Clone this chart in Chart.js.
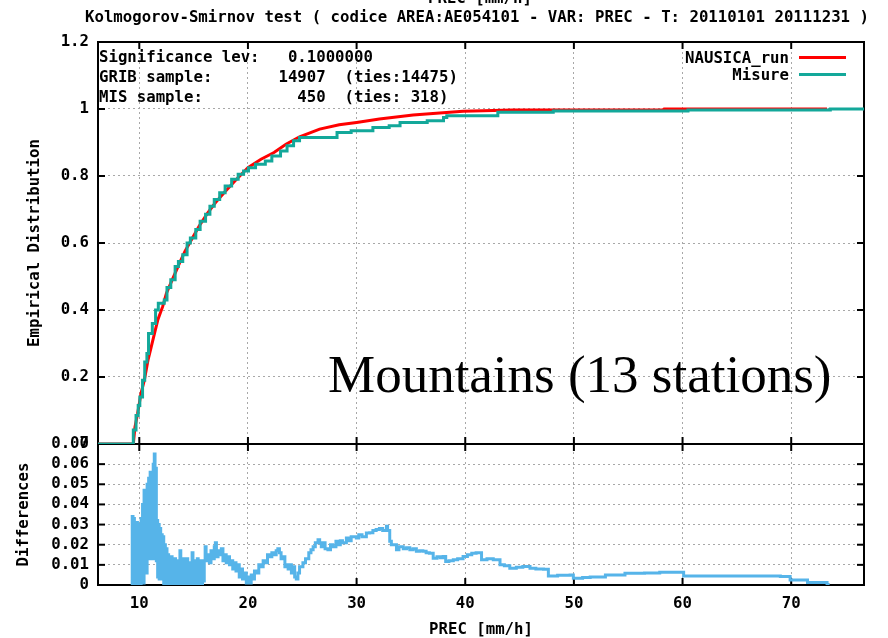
<!DOCTYPE html>
<html>
<head>
<meta charset="utf-8">
<script src="https://cdn.jsdelivr.net/npm/chart.js@4.4.0/dist/chart.umd.min.js"></script>
<style>
  html, body { margin: 0; padding: 0; background: #fff; }
  #wrap { position: relative; width: 888px; height: 638px; overflow: hidden; }
  #ks { position: absolute; left: 0; top: 0; }
  .mono {
    position: absolute; white-space: pre; color: #000;
    font-family: 'DejaVu Sans Mono', monospace; font-weight: bold;
    font-size: 15.7px; line-height: 20px;
  }
  .big {
    position: absolute; white-space: pre; color: #000;
    font-family: 'Liberation Serif', 'Times New Roman', serif;
    font-size: 53px; line-height: 53px;
  }
  .key { position: absolute; height: 3px; width: 47px; }
</style>
</head>
<body>
<div id="wrap">
  <canvas id="ks" width="888" height="638"></canvas>
  <div class="mono" style="left:428px; top:-12px;">PREC [mm/h]</div>
  <div class="mono" style="left:85px; top:7px;">Kolmogorov-Smirnov test ( codice AREA:AE054101 - VAR: PREC - T: 20110101 20111231 )</div>
  <div class="mono" style="left:99px; top:47px;">Significance lev:   0.1000000</div>
  <div class="mono" style="left:99px; top:67px;">GRIB sample:       14907  (ties:14475)</div>
  <div class="mono" style="left:99px; top:87px;">MIS sample:          450  (ties: 318)</div>
  <div id="legend"></div>
  <div class="big" style="left:328px; top:348px;">Mountains (13 stations)</div>
</div>
<script>
// KS test, mountain stations: empirical CDFs (top) and their difference (bottom)
const RED = '#ff0000';
const TEAL = '#13a89a';
const SKY = '#56b4e9';
const GRID = '#a8a8a8';
const FONT = "'DejaVu Sans Mono', monospace";

const xTicks = [10, 20, 30, 40, 50, 60, 70];
const cdfTicks = [0, 0.2, 0.4, 0.6, 0.8, 1, 1.2];
const diffTicks = [0, 0.01, 0.02, 0.03, 0.04, 0.05, 0.06, 0.07];

// NAUSICA_run (model) CDF
const runX = [6.2, 9.45, 9.6, 9.85, 10.15, 10.46, 10.8, 11.1, 11.4, 11.7,
  12.15, 12.5, 12.9, 13.3, 13.7, 14.2, 14.8, 15.5, 16.3, 17.0,
  17.8, 18.8, 20.0, 21.2, 22.4, 23.5, 24.75, 26.6, 28.4, 30.0,
  32.1, 35.2, 39.8, 44.4, 58.2, 58.3, 73.3];
const runY = [0, 0, 0.05, 0.092, 0.15, 0.19, 0.25, 0.29, 0.33, 0.37,
  0.41, 0.45, 0.48, 0.51, 0.54, 0.575, 0.61, 0.65, 0.69, 0.72,
  0.75, 0.785, 0.825, 0.85, 0.87, 0.895, 0.917, 0.94, 0.953, 0.96,
  0.97, 0.982, 0.993, 0.997, 0.998, 1.0, 1.0];

// Misure (observations) CDF, stepped
const misX = [6.2, 9.45, 9.7, 9.9, 10.05, 10.3, 10.5, 10.7, 10.85, 11.2,
  11.5, 11.75, 12.3, 12.55, 12.9, 13.3, 13.6, 14.0, 14.4, 14.7,
  15.2, 15.6, 16.1, 16.5, 16.9, 17.4, 17.9, 18.5, 19.1, 19.6,
  20.05, 20.7, 21.6, 22.2, 23.0, 23.6, 24.2, 24.75, 28.2, 29.5,
  31.5, 33.0, 34.0, 36.5, 38.0, 38.3, 43.0, 48.1, 60.5, 73.6, 76.7];
const misY = [0, 0.042, 0.085, 0.115, 0.14, 0.19, 0.245, 0.27, 0.33, 0.36,
  0.40, 0.42, 0.43, 0.467, 0.49, 0.53, 0.545, 0.565, 0.60, 0.615,
  0.64, 0.665, 0.686, 0.71, 0.73, 0.75, 0.77, 0.79, 0.805, 0.815,
  0.825, 0.835, 0.845, 0.86, 0.875, 0.89, 0.905, 0.915, 0.93, 0.935,
  0.945, 0.95, 0.96, 0.965, 0.975, 0.98, 0.99, 0.994, 0.997, 1.0, 1.0];

// differences between the two CDFs
const diffX = [9.33, 9.35, 9.42, 9.48, 9.55, 9.62, 9.70, 9.76, 9.83, 9.90,
  9.97, 10.04, 10.10, 10.17, 10.24, 10.30, 10.37, 10.44, 10.51, 10.58,
  10.65, 10.72, 10.79, 10.86, 10.93, 11.00, 11.07, 11.14, 11.21, 11.28,
  11.35, 11.38, 11.45, 11.50, 11.57, 11.62, 11.69, 11.76, 11.83, 11.90,
  11.97, 12.04, 12.11, 12.18, 12.25, 12.32, 12.40, 12.47, 12.55, 12.62,
  12.70, 12.78, 12.86, 12.94, 13.02, 13.10, 13.18, 13.26, 13.34, 13.42,
  13.50, 13.58, 13.66, 13.74, 13.82, 13.90, 13.98, 14.06, 14.14, 14.22,
  14.30, 14.38, 14.46, 14.54, 14.62, 14.70, 14.78, 14.86, 14.94, 15.02,
  15.10, 15.18, 15.26, 15.34, 15.42, 15.50, 15.58, 15.66, 15.74, 15.82,
  15.90, 15.98, 16.06, 16.15, 16.30, 16.45, 16.60, 16.75, 16.90, 17.00,
  17.10, 17.25, 17.40, 17.55, 17.70, 17.85, 18.00, 18.15, 18.30, 18.45,
  18.60, 18.75, 18.90, 19.05, 19.20, 19.35, 19.50, 19.70, 19.85, 20.00,
  20.15, 20.30, 20.45, 20.60, 20.80, 21.00, 21.20, 21.40, 21.60, 21.80,
  22.00, 22.20, 22.40, 22.60, 22.75, 22.90, 23.05, 23.20, 23.40, 23.55,
  23.70, 23.85, 24.00, 24.15, 24.30, 24.45, 24.60, 24.75, 25.06, 25.30,
  25.60, 25.80, 26.00, 26.20, 26.45, 26.60, 26.75, 26.90, 27.10, 27.36,
  27.60, 27.80, 28.10, 28.30, 28.50, 28.70, 29.06, 29.30, 29.50, 29.98,
  30.20, 30.50, 30.90, 31.20, 31.50, 31.80, 32.10, 32.40, 32.75, 32.85,
  33.05, 33.20, 33.67, 33.90, 34.30, 34.60, 34.90, 35.20, 35.50, 35.80,
  36.10, 36.40, 36.70, 37.05, 37.40, 37.70, 37.97, 38.20, 38.50, 38.90,
  39.30, 39.80, 40.20, 40.60, 41.00, 41.35, 41.50, 42.00, 42.58, 43.20,
  43.60, 44.10, 44.70, 45.30, 45.96, 46.50, 47.20, 47.65, 48.50, 49.65,
  49.95, 50.80, 51.50, 52.90, 54.70, 56.50, 57.90, 59.40, 60.10, 64.00,
  68.70, 69.00, 69.90, 71.50, 73.30, 73.40];
const diffY = [0, 0.034, 0.002, 0.033, 0.000, 0.031, 0.004, 0.031, 0.000, 0.030,
  0.003, 0.030, 0.000, 0.033, 0.002, 0.040, 0.001, 0.047, 0.007, 0.046,
  0.006, 0.050, 0.013, 0.053, 0.014, 0.056, 0.013, 0.055, 0.018, 0.060,
  0.013, 0.065, 0.014, 0.058, 0.012, 0.032, 0.004, 0.030, 0.003, 0.028,
  0.005, 0.025, 0.003, 0.024, 0.000, 0.020, 0.002, 0.018, 0.000, 0.015,
  0.003, 0.012, 0.000, 0.014, 0.001, 0.010, 0.000, 0.013, 0.002, 0.010,
  0.000, 0.012, 0.001, 0.017, 0.000, 0.011, 0.002, 0.013, 0.000, 0.010,
  0.001, 0.013, 0.000, 0.009, 0.002, 0.011, 0.000, 0.016, 0.001, 0.012,
  0.000, 0.010, 0.002, 0.013, 0.000, 0.011, 0.001, 0.012, 0.000, 0.010,
  0.002, 0.012, 0.019, 0.012, 0.015, 0.011, 0.017, 0.013, 0.019, 0.021,
  0.014, 0.017, 0.015, 0.018, 0.012, 0.015, 0.011, 0.014, 0.010, 0.012,
  0.008, 0.011, 0.007, 0.010, 0.004, 0.008, 0.003, 0.006, 0.001, 0.004,
  0.001, 0.005, 0.003, 0.007, 0.006, 0.010, 0.009, 0.012, 0.011, 0.015,
  0.014, 0.016, 0.015, 0.017, 0.018, 0.016, 0.013, 0.014, 0.009, 0.010,
  0.008, 0.010, 0.006, 0.009, 0.004, 0.003, 0.006, 0.009, 0.011, 0.013,
  0.016, 0.0175, 0.019, 0.021, 0.0225, 0.021, 0.019, 0.021, 0.018, 0.0175,
  0.020, 0.019, 0.0217, 0.020, 0.022, 0.021, 0.0233, 0.022, 0.024, 0.0233,
  0.025, 0.024, 0.0258, 0.026, 0.027, 0.0275, 0.028, 0.027, 0.0292, 0.027,
  0.0217, 0.020, 0.0175, 0.019, 0.018, 0.0185, 0.0175, 0.018, 0.0167, 0.017,
  0.0167, 0.016, 0.0158, 0.0133, 0.014, 0.0135, 0.0142, 0.0117, 0.012, 0.0125,
  0.013, 0.0142, 0.015, 0.0158, 0.016, 0.016, 0.0125, 0.013, 0.0125, 0.0100,
  0.0095, 0.0083, 0.0088, 0.0092, 0.0083, 0.0080, 0.0078, 0.0045, 0.0048, 0.0050,
  0.0033, 0.0037, 0.0040, 0.0050, 0.0058, 0.0060, 0.0063, 0.0063, 0.0045, 0.0045,
  0.0045, 0.0042, 0.0025, 0.0012, 0.0003, 0];

const SERIES = [
  { label: 'NAUSICA_run', color: RED },
  { label: 'Misure', color: TEAL },
];

const pts = (xs, ys) => xs.map((x, i) => ({ x: x, y: ys[i] }));
const useTicks = (vals) => (scale) => { scale.ticks = vals.map(v => ({ value: v })); };
const plainNum = (v) => String(+Number(v).toFixed(4));

// gnuplot-like frame with inward tick marks on every side of both panels
const TICK = 7;
const framePlugin = {
  id: 'frame',
  beforeDatasetsDraw(chart) {
    const { ctx, chartArea: a, scales } = chart;
    const xs = scales.x;
    const seg = (x1, y1, x2, y2) => { ctx.beginPath(); ctx.moveTo(x1, y1); ctx.lineTo(x2, y2); ctx.stroke(); };
    ctx.save();
    ctx.strokeStyle = '#000';
    ctx.lineWidth = 2;
    ['yCdf', 'yDiff'].forEach(id => {
      const s = scales[id];
      ctx.strokeRect(a.left, s.top, a.right - a.left, s.bottom - s.top);
      s.ticks.forEach(t => {
        const py = s.getPixelForValue(t.value);
        seg(a.left, py, a.left + TICK, py);
        seg(a.right, py, a.right - TICK, py);
      });
      xs.ticks.forEach(t => {
        const px = xs.getPixelForValue(t.value);
        seg(px, s.top, px, s.top + TICK);
        seg(px, s.bottom, px, s.bottom - TICK);
      });
    });
    ctx.restore();
  }
};

Chart.defaults.font.family = FONT;
Chart.defaults.font.size = 15.7;
Chart.defaults.font.weight = 'bold';
Chart.defaults.color = '#000';

const tickFont = { family: FONT, size: 15.7, weight: 'bold', lineHeight: 1.2 };
const titleFont = { family: FONT, size: 15.7, weight: 'bold', lineHeight: 1 };

new Chart(document.getElementById('ks'), {
  type: 'line',
  data: {
    datasets: [
      {
        label: SERIES[0].label, data: pts(runX, runY), yAxisID: 'yCdf',
        borderColor: RED, borderWidth: 3, pointRadius: 0, order: 2,
      },
      {
        label: SERIES[1].label, data: pts(misX, misY), yAxisID: 'yCdf',
        borderColor: TEAL, borderWidth: 3, pointRadius: 0, stepped: 'before', order: 1,
      },
      {
        label: 'Differences', data: pts(diffX, diffY), yAxisID: 'yDiff',
        borderColor: SKY, borderWidth: 3, pointRadius: 0, stepped: 'before', order: 3,
      },
    ],
  },
  options: {
    responsive: false,
    animation: false,
    layout: { padding: { top: 42, right: 24, left: 0, bottom: 0 } },
    plugins: { legend: { display: false }, tooltip: { enabled: false } },
    scales: {
      x: {
        type: 'linear', min: 6.2, max: 76.7,
        afterBuildTicks: useTicks(xTicks),
        afterFit: (s) => { s.height = 53; },
        grid: { color: GRID, lineWidth: 1, drawTicks: false },
        border: { display: false, dash: [2, 3] },
        ticks: { autoSkip: false, maxRotation: 0, padding: 10, font: tickFont, color: '#000', callback: plainNum },
        title: { display: true, text: 'PREC [mm/h]', font: titleFont, color: '#000', padding: { top: 0, bottom: 0 } },
      },
      yDiff: {
        type: 'linear', position: 'left', stack: 'panels', stackWeight: 141,
        min: 0, max: 0.07,
        afterBuildTicks: useTicks(diffTicks),
        afterFit: (s) => { s.width = 98; },
        grid: { color: GRID, lineWidth: 1, drawTicks: false },
        border: { display: false, dash: [2, 3] },
        ticks: { autoSkip: false, padding: 9, font: tickFont, color: '#000', callback: plainNum },
        title: { display: true, text: 'Differences', font: titleFont, color: '#000', padding: { top: 16, bottom: 0 } },
      },
      yCdf: {
        type: 'linear', position: 'left', stack: 'panels', stackWeight: 402,
        min: 0, max: 1.2,
        afterBuildTicks: useTicks(cdfTicks),
        afterFit: (s) => { s.width = 98; },
        grid: { color: GRID, lineWidth: 1, drawTicks: false },
        border: { display: false, dash: [2, 3] },
        ticks: { autoSkip: false, padding: 9, font: tickFont, color: '#000', callback: plainNum },
        title: { display: true, text: 'Empirical Distribution', font: titleFont, color: '#000', padding: { top: 27, bottom: 0 } },
      },
    },
  },
  plugins: [framePlugin],
});

// legend (top right, text right-aligned before the line sample)
const legend = document.getElementById('legend');
SERIES.forEach((s, i) => {
  const y = 57 + i * 17;
  const txt = document.createElement('div');
  txt.className = 'mono';
  txt.style.cssText = 'right:' + (888 - 789) + 'px; top:' + (y - 9) + 'px; text-align:right;';
  txt.textContent = s.label;
  legend.appendChild(txt);
  const key = document.createElement('div');
  key.className = 'key';
  key.style.cssText = 'left:799px; top:' + (y - 1.5) + 'px; background:' + s.color + ';';
  legend.appendChild(key);
});
</script>
</body>
</html>
